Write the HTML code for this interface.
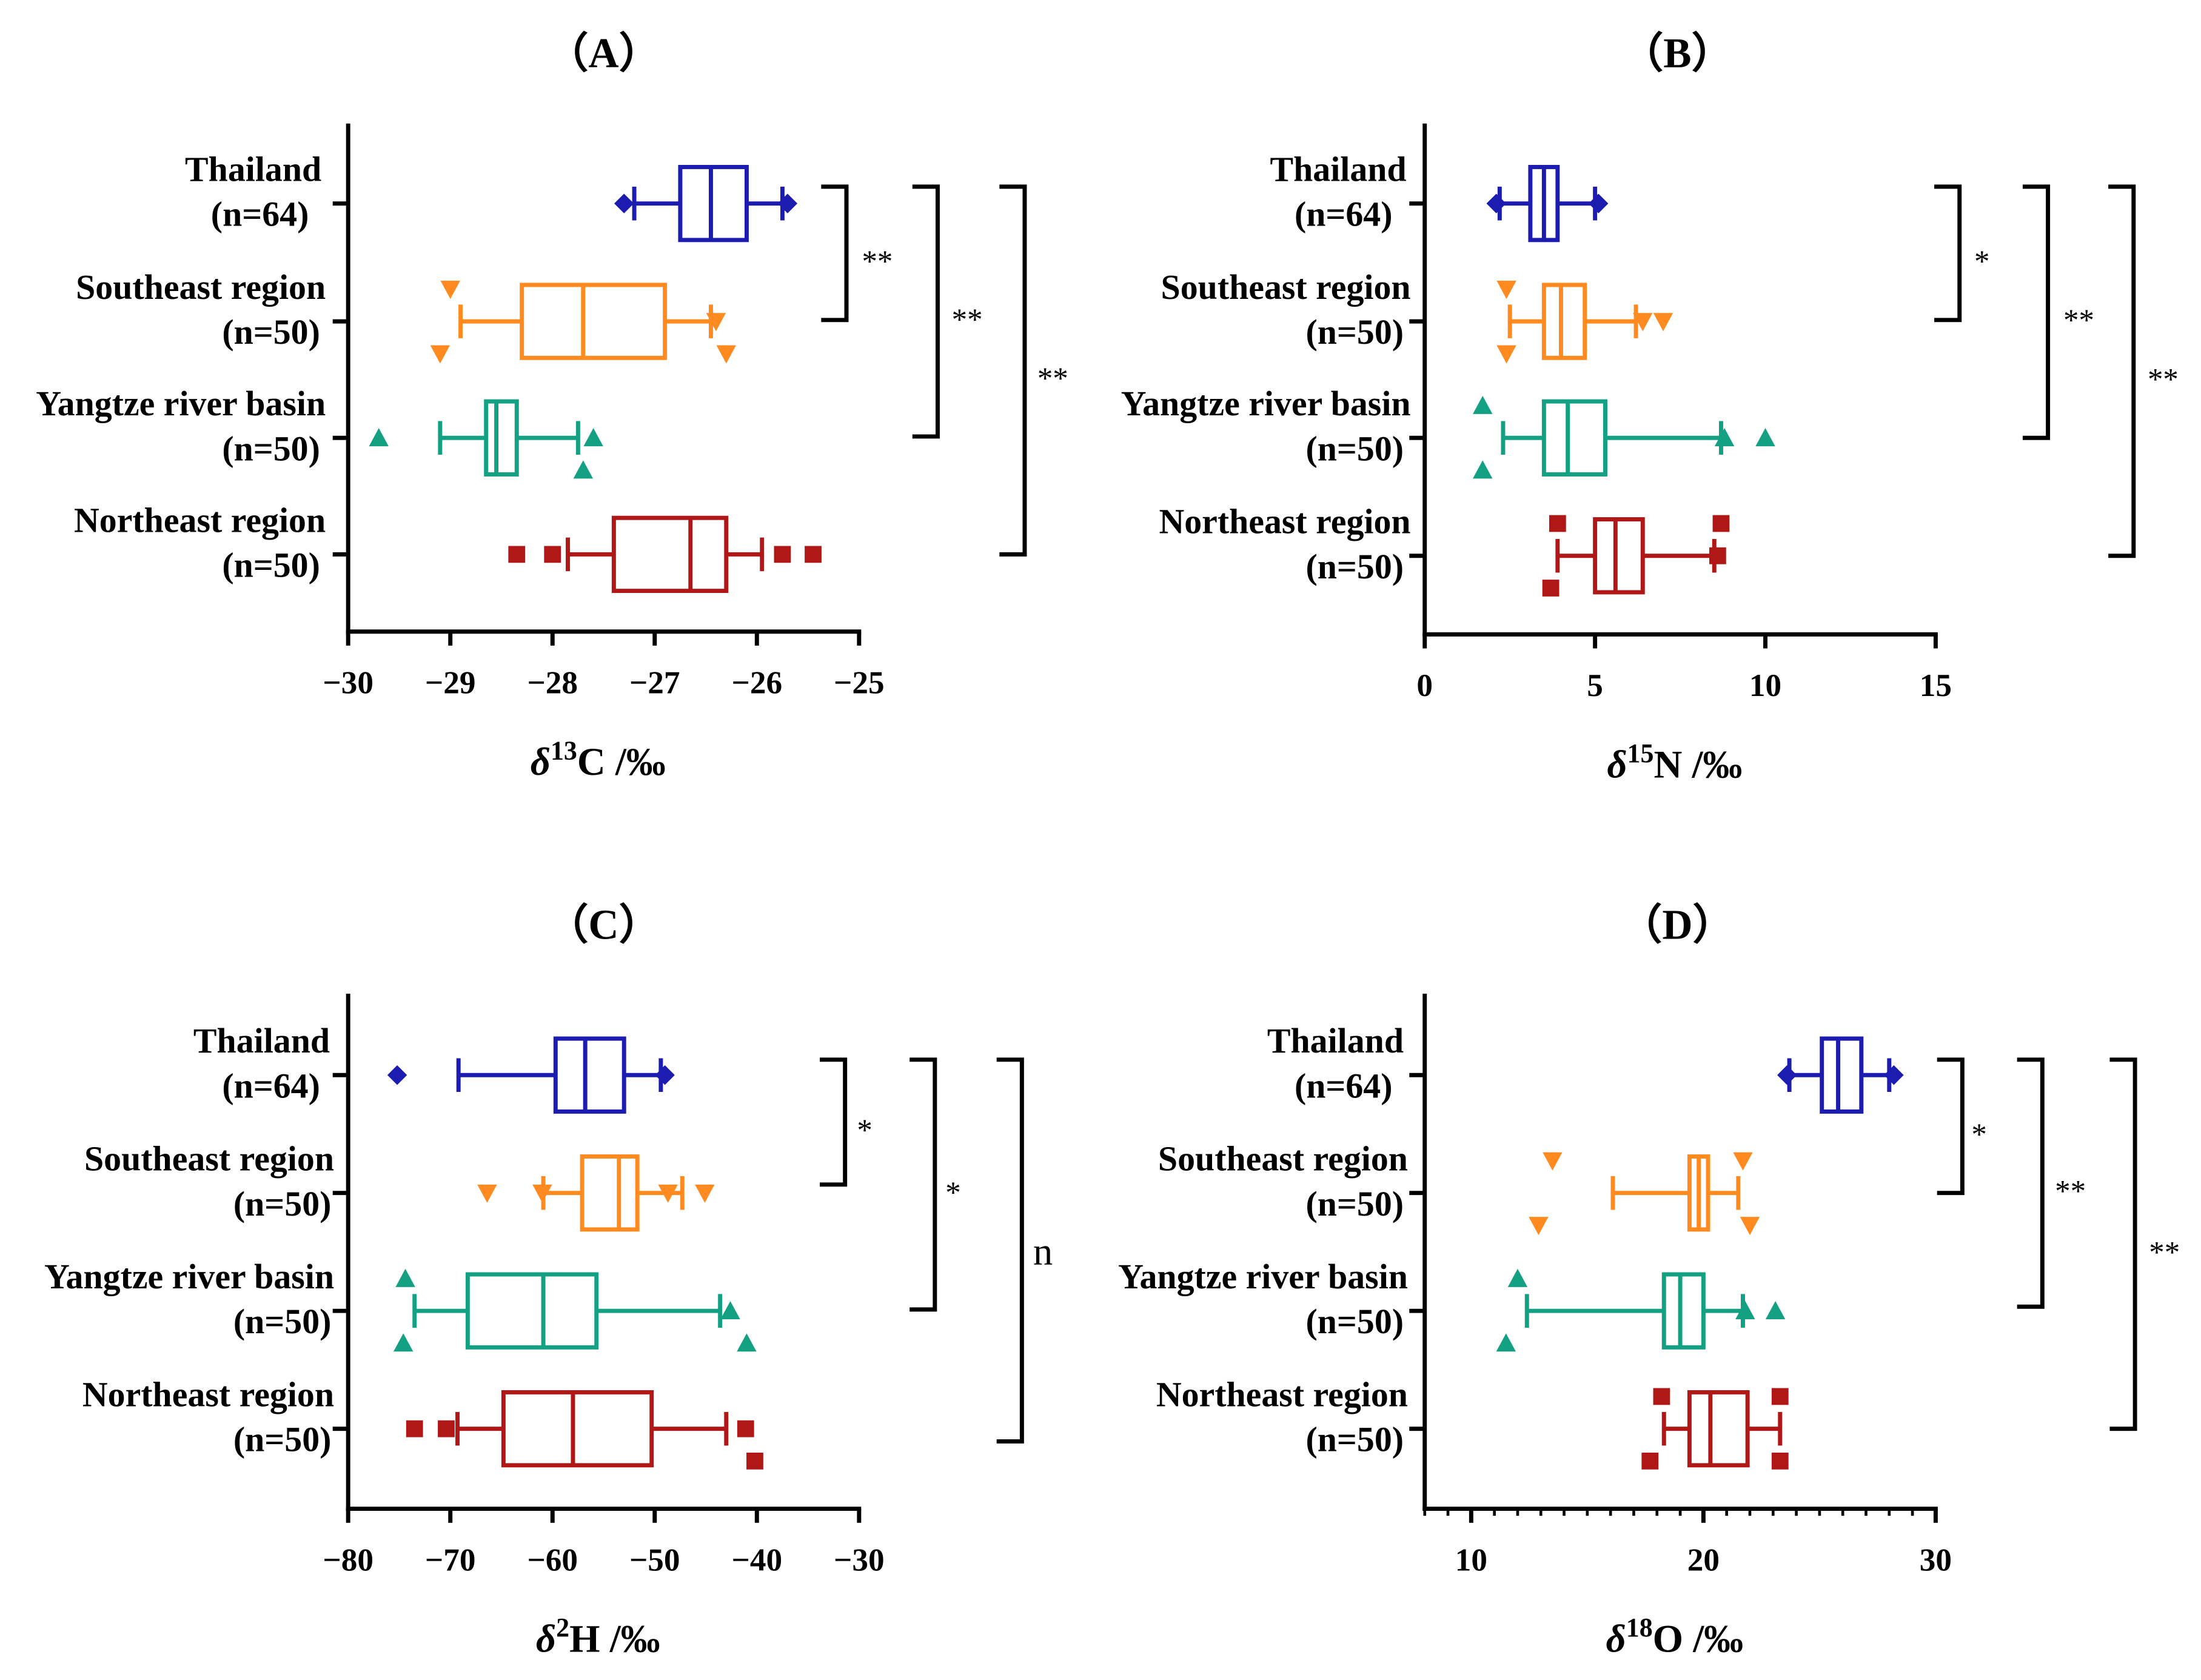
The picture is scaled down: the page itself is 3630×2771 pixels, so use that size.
<!DOCTYPE html>
<html><head><meta charset="utf-8"><style>
html,body{margin:0;padding:0;background:#fff}
svg{display:block}
text{font-family:"Liberation Serif",serif}
</style></head><body>
<svg id="chart" xmlns="http://www.w3.org/2000/svg" width="3630" height="2771" viewBox="0 0 1568 1197">
<rect width="1568" height="1197" fill="#fff"/>
</svg>
<script>
const categories = ["Thailand","Southeast region","Yangtze river basin","Northeast region"];
const counts = ["(n=64)","(n=50)","(n=50)","(n=50)"];
// each box: [whiskerLow, q1, median, q3, whiskerHigh]
const boxesA = [[-27.2,-26.75,-26.45,-26.1,-25.75],[-28.9,-28.3,-27.7,-26.9,-26.45],[-29.1,-28.65,-28.55,-28.35,-27.75],[-27.85,-27.4,-26.65,-26.3,-25.95]];
const boxesB = [[2.2,3.1,3.5,3.9,5.0],[2.5,3.5,4.0,4.7,6.2],[2.3,3.5,4.2,5.3,8.7],[3.9,5.0,5.6,6.4,8.5]];
const boxesC = [[-69.2,-59.7,-56.8,-53,-49.4],[-60.9,-57.1,-53.5,-51.7,-47.3],[-73.5,-68.3,-60.9,-55.7,-43.6],[-69.3,-64.8,-58,-50.3,-43]];
const boxesD = [[23.7,25.1,25.8,26.8,28.0],[16.1,19.4,19.8,20.2,21.5],[12.4,18.3,19.0,20.0,21.7],[18.3,19.4,20.3,21.9,23.3]];
// outliers: [value, jitterRow (-1 above, 0 on line, 1 below)]
const outliersA = [[[-27.3,0],[-25.7,0]],[[-29.0,-1],[-29.1,1],[-26.4,0],[-26.3,1]],[[-29.7,0],[-27.6,0],[-27.7,1]],[[-28.35,0],[-28.0,0],[-25.75,0],[-25.45,0]]];
const outliersB = [[[2.1,0],[5.1,0]],[[2.4,-1],[2.4,1],[6.4,0],[7.0,0]],[[1.7,-1],[1.7,1],[8.8,0],[10.0,0]],[[3.9,-1],[3.7,1],[8.7,-1],[8.6,0]]];
const outliersC = [[[-75.2,0],[-49,0]],[[-66.4,0],[-61,0],[-48.7,0],[-45.1,0]],[[-74.4,-1],[-74.6,1],[-42.6,0],[-41,1]],[[-73.5,0],[-70.4,0],[-41.1,0],[-40.2,1]]];
const outliersD = [[[23.6,0],[28.2,0]],[[13.5,-1],[12.9,1],[21.7,-1],[22.0,1]],[[12.0,-1],[11.5,1],[21.8,0],[23.1,0]],[[18.2,-1],[17.7,1],[23.3,-1],[23.3,1]]];
const ticksA = [-30,-29,-28,-27,-26,-25];
const ticksB = [0,5,10,15];
const ticksC = [-80,-70,-60,-50,-40,-30];
const ticksD = [10,20,30];
const sigA = ["**","**","**"], sigB = ["*","**","**"], sigC = ["*","*","n"], sigD = ["*","**","**"];

const colors = ["#1c1cb0","#ff8a1f","#14a082","#b01818"];
const shapes = ["diamond","down","up","square"];
const NS = "http://www.w3.org/2000/svg";
const svg = document.getElementById('chart');
function mk(tag, attrs, parent){const e=document.createElementNS(NS,tag);for(const k in attrs)e.setAttribute(k,attrs[k]);(parent||svg).appendChild(e);return e;}

const panels = [
 {key:'a',title:'A',tx:430,ty:37,ax:248,ay:450,top:88,x0:-30,x1:-25,px0:248,px1:612,cats:[145,229,312,395],boxes:boxesA,outs:outliersA,ticks:ticksA,minor:null,lx:232,nx:228,xt:['13','C'],br:[[585,133,228,625],[650,133,311,689],[712,133,395,750]],sig:sigA},
 {key:'b',title:'B',tx:1195,ty:37,ax:1015,ay:452,top:88,x0:0,x1:15,px0:1015,px1:1379,cats:[145,229,312,396],boxes:boxesB,outs:outliersB,ticks:ticksB,minor:null,lx:1005,nx:1000,xt:['15','N'],br:[[1378,133,228,1412],[1441,133,312,1481],[1502,133,396,1541]],sig:sigB},
 {key:'c',title:'C',tx:430,ty:658,ax:248,ay:1075,top:708,x0:-80,x1:-30,px0:248,px1:612,cats:[766,850,934,1018],boxes:boxesC,outs:outliersC,ticks:ticksC,minor:null,lx:238,nx:236,xt:['2','H'],br:[[584,755,844,616],[648,755,933,679],[710,755,1027,743]],sig:sigC},
 {key:'d',title:'D',tx:1195,ty:658,ax:1015,ay:1075,top:708,x0:8,x1:30,px0:1015,px1:1379,cats:[766,850,934,1018],boxes:boxesD,outs:outliersD,ticks:ticksD,minor:1,lx:1003,nx:1000,xt:['18','O'],br:[[1380,755,850,1410],[1437,755,931,1475],[1503,755,1018,1542]],sig:sigD}
];

panels.forEach(p=>{
  const g = mk('g',{});
  
  
  const sx = v => p.px0 + (v-p.x0)/(p.x1-p.x0)*(p.px1-p.px0);
  const t = mk('text',{x:p.tx,y:p.ty+11,'text-anchor':'middle','font-size':30,'font-weight':'bold','font-family':'Liberation Sans, sans-serif'},g);
  t.textContent = '（'+p.title+'）';
  
  
  const ya = mk('line',{x1:p.ax,y1:p.top,x2:p.ax,y2:p.ay+1.5,stroke:'#000','stroke-width':3},g);
  
  
  const xa = mk('line',{x1:p.ax-1.5,y1:p.ay,x2:p.px1+1.5,y2:p.ay,stroke:'#000','stroke-width':3},g);
  
  
  if(p.minor){
    for(let v=Math.ceil(p.x0);v<=p.x1;v+=p.minor){
      mk('line',{x1:sx(v),y1:p.ay,x2:sx(v),y2:p.ay+5,stroke:'#000','stroke-width':2},g);
    }
  }
  p.ticks.forEach(v=>{
    mk('line',{x1:sx(v),y1:p.ay,x2:sx(v),y2:p.ay+10,stroke:'#000','stroke-width':3},g);
    const tl = mk('text',{x:sx(v),y:p.ay+44,'text-anchor':'middle','font-size':23,'font-weight':'bold'},g);
    tl.textContent = (v<0?'\u2212'+(-v):String(v));
    
    
  });
  const xt = mk('text',{x:(p.px0+p.px1)/2-4,y:p.ay+102,'text-anchor':'middle','font-size':28,'font-weight':'bold'},g);
  
  
  const s1 = mk('tspan',{'font-style':'italic'},xt); s1.textContent='δ';
  const s2 = mk('tspan',{'font-size':19,dy:-11},xt); s2.textContent=p.xt[0];
  const s3 = mk('tspan',{dy:11},xt); s3.textContent=p.xt[1]+' /‰';

  p.cats.forEach((cy,i)=>{
    mk('line',{x1:p.ax-11,y1:cy,x2:p.ax,y2:cy,stroke:'#000','stroke-width':3},g);
    const l1 = mk('text',{x:p.lx-(i==0?3:0),y:cy-16,'text-anchor':'end','font-size':25,'font-weight':'bold'},g);
    l1.textContent = categories[i];
    
    
    const l2 = mk('text',{x:p.nx-(i==0?8:0),y:cy+16,'text-anchor':'end','font-size':25,'font-weight':'bold'},g);
    l2.textContent = counts[i];
    
    
    const b = p.boxes[i], c = colors[i];
    const bg = mk('g',{stroke:c,'stroke-width':3,fill:'none'},g);
    
    
    mk('line',{x1:sx(b[0]),y1:cy,x2:sx(b[1]),y2:cy},bg);
    mk('line',{x1:sx(b[3]),y1:cy,x2:sx(b[4]),y2:cy},bg);
    mk('line',{x1:sx(b[0]),y1:cy-12,x2:sx(b[0]),y2:cy+12},bg);
    mk('line',{x1:sx(b[4]),y1:cy-12,x2:sx(b[4]),y2:cy+12},bg);
    mk('rect',{x:sx(b[1]),y:cy-26,width:sx(b[3])-sx(b[1]),height:52},bg);
    mk('line',{x1:sx(b[2]),y1:cy-26,x2:sx(b[2]),y2:cy+26},bg);
    p.outs[i].forEach(o=>{
      const x = sx(o[0]), y = cy + o[1]*23;
      let m;
      if(shapes[i]=='diamond') m = mk('polygon',{points:`${x},${y-7} ${x+7},${y} ${x},${y+7} ${x-7},${y}`,fill:c},g);
      else if(shapes[i]=='down') m = mk('polygon',{points:`${x-7},${y-6} ${x+7},${y-6} ${x},${y+7}`,fill:c},g);
      else if(shapes[i]=='up') m = mk('polygon',{points:`${x-7},${y+6} ${x+7},${y+6} ${x},${y-7}`,fill:c},g);
      else m = mk('rect',{x:x-6,y:y-6,width:12,height:12,fill:c},g);
      
      
    });
  });
  p.br.forEach((br,j)=>{
    const [bx,y1,y2,lx] = br;
    const pl = mk('polyline',{points:`${bx},${y1} ${bx+18},${y1} ${bx+18},${y2} ${bx},${y2}`,fill:'none',stroke:'#000','stroke-width':3},g);
    
    
    const isN = p.sig[j]=='n';
    const st = mk('text',{x:lx,y:isN?(y1+y2)/2+10:(y1+y2)/2+13,'text-anchor':'middle','font-size':isN?28:22,'font-family':'Liberation Sans, sans-serif'},g);
    st.textContent = p.sig[j];
    
    
  });
});
</script>
</body></html>
